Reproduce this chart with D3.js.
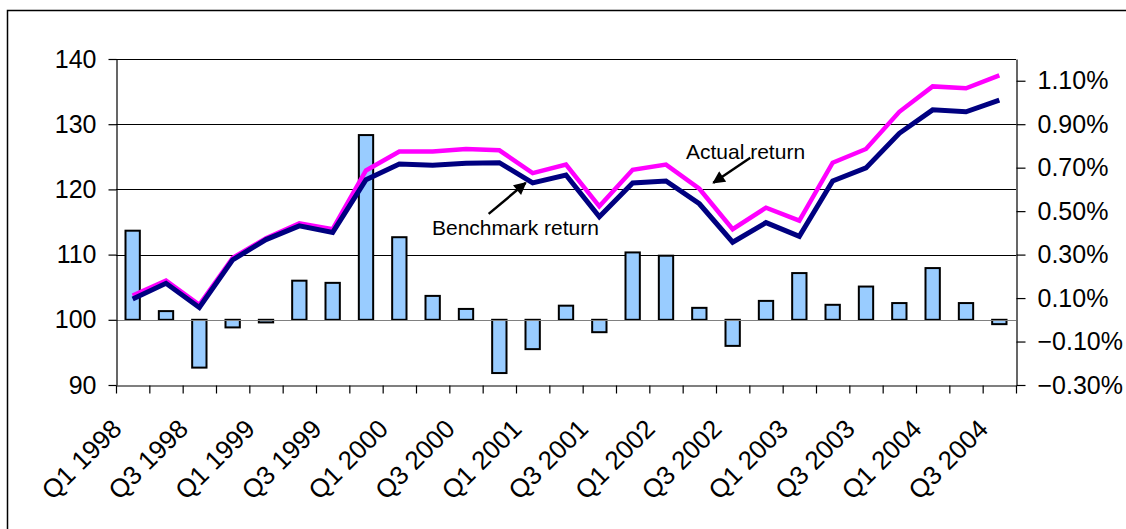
<!DOCTYPE html>
<html>
<head>
<meta charset="utf-8">
<script src="https://cdn.jsdelivr.net/npm/d3@7"></script>
<style>
  html, body { margin: 0; padding: 0; background: #fff; }
  svg { display: block; }
  text { font-family: "Liberation Sans", Arial, sans-serif; fill: #000; }
</style>
</head>
<body>
<svg id="chart" width="1126" height="529"></svg>
<script>
// Quarterly categories, Q1 1998 – Q3 2004
const quarters = [
  "Q1 1998","Q2 1998","Q3 1998","Q4 1998",
  "Q1 1999","Q2 1999","Q3 1999","Q4 1999",
  "Q1 2000","Q2 2000","Q3 2000","Q4 2000",
  "Q1 2001","Q2 2001","Q3 2001","Q4 2001",
  "Q1 2002","Q2 2002","Q3 2002","Q4 2002",
  "Q1 2003","Q2 2003","Q3 2003","Q4 2003",
  "Q1 2004","Q2 2004","Q3 2004"
];

// Cumulative index (left axis)
const actualReturn = [103.7,106.0,102.3,109.5,112.5,114.8,113.9,122.9,125.8,125.8,126.2,126.0,122.5,123.8,117.4,123.0,123.8,120.1,113.9,117.2,115.2,124.1,126.2,131.9,135.8,135.5,137.5];
const benchmarkReturn = [103.2,105.6,101.9,109.2,112.3,114.4,113.4,121.5,123.9,123.7,124.0,124.1,121.0,122.2,115.8,121.0,121.3,117.8,111.9,114.9,112.8,121.3,123.3,128.6,132.2,131.9,133.7];

// Quarterly excess return in percent (right axis)
const excessReturn = [0.41,0.04,-0.22,-0.035,-0.012,0.18,0.17,0.85,0.38,0.11,0.05,-0.245,-0.135,0.065,-0.057,0.31,0.295,0.055,-0.12,0.087,0.215,0.069,0.153,0.077,0.238,0.077,-0.02];

// Axis ticks
const leftTicks = [90,100,110,120,130,140];
const rightTicks = [-0.3,-0.1,0.1,0.3,0.5,0.7,0.9,1.1];

const svg = d3.select("#chart");
const L = 116, R = 1016, T = 59, B = 385;

const x = d3.scaleBand().domain(quarters).range([L, R]).padding(0);
const xIdx = d3.scaleLinear().domain([0, quarters.length]).range([L, R]);
const yL = d3.scaleLinear().domain([90, 140]).range([B, T]);
const yR = d3.scaleLinear().domain([-0.3, 1.2]).range([B, T]);
const cx = q => x(q) + x.bandwidth() / 2;

// Outer frame
svg.append("rect")
  .attr("x", 7.5).attr("y", 10.5)
  .attr("width", 1130).attr("height", 530)
  .attr("fill", "none").attr("stroke", "#000").attr("stroke-width", 1.5);

// Horizontal gridlines
svg.append("g").selectAll("line")
  .data(leftTicks.filter(v => v > 100))
  .join("line")
  .attr("x1", L).attr("x2", R)
  .attr("y1", d => Math.round(yL(d)) + 0.5).attr("y2", d => Math.round(yL(d)) + 0.5)
  .attr("stroke", "#000").attr("stroke-width", 1);

// Excess return bars
const barW = x.bandwidth() * 0.43;
svg.append("g").selectAll("rect")
  .data(excessReturn)
  .join("rect")
  .attr("x", (d, i) => cx(quarters[i]) - barW / 2)
  .attr("y", d => yR(Math.max(0, d)))
  .attr("width", barW)
  .attr("height", d => Math.abs(yR(d) - yR(0)))
  .attr("fill", "#99CCFF")
  .attr("stroke", "#000")
  .attr("stroke-width", 2);

// Zero line for the bars
svg.append("line")
  .attr("x1", L).attr("x2", R)
  .attr("y1", Math.round(yR(0)) + 0.5).attr("y2", Math.round(yR(0)) + 0.5)
  .attr("stroke", "#808080").attr("stroke-width", 1);

// Return lines
const line = d3.line().x((d, i) => cx(quarters[i])).y(d => yL(d));
svg.append("path").datum(actualReturn)
  .attr("d", line).attr("fill", "none")
  .attr("stroke", "#FF00FF").attr("stroke-width", 4.5)
  .attr("stroke-linejoin", "miter");
svg.append("path").datum(benchmarkReturn)
  .attr("d", line).attr("fill", "none")
  .attr("stroke", "#000080").attr("stroke-width", 5)
  .attr("stroke-linejoin", "miter");

// Left axis
const gl = svg.append("g").attr("transform", `translate(${L + 0.5},0)`)
  .call(d3.axisLeft(yL).tickValues(leftTicks).tickFormat(d3.format("d"))
    .tickSize(8).tickSizeOuter(0).tickPadding(12));
// Right axis
const gr = svg.append("g").attr("transform", `translate(${R + 0.5},0)`)
  .call(d3.axisRight(yR).tickValues(rightTicks)
    .tickFormat(d => d3.format(".2f")(d) + "%")
    .tickSize(9).tickSizeOuter(0).tickPadding(12));
// Bottom axis: ticks at category boundaries
const gb = svg.append("g").attr("transform", `translate(0,${B + 0.5})`)
  .call(d3.axisBottom(xIdx).tickValues(d3.range(quarters.length + 1))
    .tickFormat("").tickSize(8).tickSizeOuter(0));

[gl, gr, gb].forEach(g => {
  g.select(".domain").attr("stroke", "#000").attr("stroke-width", 1.2);
  g.selectAll(".tick line").attr("stroke", "#000").attr("stroke-width", 1.2);
  g.selectAll(".tick text").attr("font-size", 25)
    .attr("font-family", "'Liberation Sans', Arial, sans-serif").attr("fill", "#000");
});

// Rotated category labels, every other quarter
svg.append("g").selectAll("text")
  .data(quarters.filter((q, i) => i % 2 === 0))
  .join("text")
  .attr("transform", q => `translate(${cx(q) - 16},${B + 39}) rotate(-45)`)
  .attr("text-anchor", "end")
  .attr("dy", "0.35em")
  .attr("font-size", 26)
  .text(q => q);

// Annotations
const defs = svg.append("defs");
defs.append("marker")
  .attr("id", "arrow").attr("viewBox", "0 0 10 10")
  .attr("refX", 9).attr("refY", 5)
  .attr("markerWidth", 5.5).attr("markerHeight", 5)
  .attr("orient", "auto")
  .append("path").attr("d", "M0,0 L10,5 L0,10 Z").attr("fill", "#000");

const iB = 12, iA = 17;
const bTip = [cx(quarters[iB]) - 7, yL(benchmarkReturn[iB])];
svg.append("line")
  .attr("x1", bTip[0] - 37).attr("y1", bTip[1] + 31)
  .attr("x2", bTip[0]).attr("y2", bTip[1])
  .attr("stroke", "#000").attr("stroke-width", 2.5)
  .attr("marker-end", "url(#arrow)");
svg.append("text").attr("x", 432).attr("y", 235)
  .attr("font-size", 21).text("Benchmark return");

const aTip = [cx(quarters[iA]) + 14, yL(actualReturn[iA]) - 6];
svg.append("line")
  .attr("x1", aTip[0] + 37).attr("y1", aTip[1] - 25)
  .attr("x2", aTip[0]).attr("y2", aTip[1])
  .attr("stroke", "#000").attr("stroke-width", 2.5)
  .attr("marker-end", "url(#arrow)");
svg.append("text").attr("x", 686).attr("y", 159)
  .attr("font-size", 21).text("Actual return");
</script>
</body>
</html>
